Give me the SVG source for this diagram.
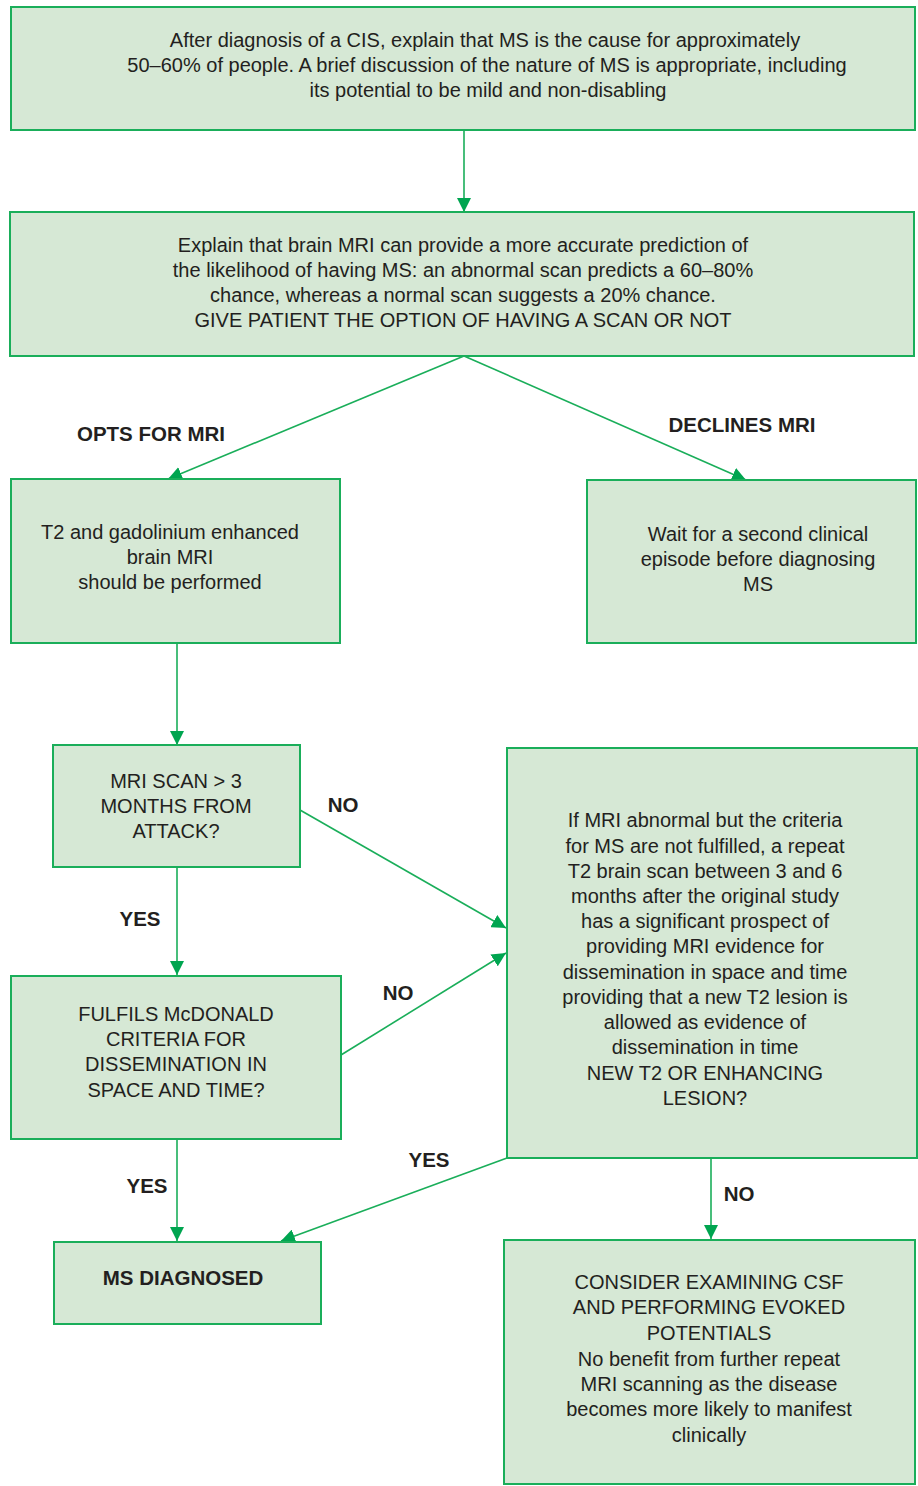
<svg xmlns="http://www.w3.org/2000/svg" width="918" height="1486" viewBox="0 0 918 1486">
<style>
.box{fill:#d6e8d5;stroke:#1aae5a;stroke-width:2}
.t{font-family:"Liberation Sans",Arial,sans-serif;font-size:20px;fill:#231f20;text-anchor:middle}
.b{font-family:"Liberation Sans",Arial,sans-serif;font-size:20.5px;font-weight:bold;fill:#231f20;text-anchor:middle}
.c{stroke:#1aae5a;stroke-width:1.6;fill:none;marker-end:url(#ah)}
</style>
<defs>
<marker id="ah" markerUnits="userSpaceOnUse" markerWidth="16" markerHeight="14" refX="14" refY="7" orient="auto">
<path d="M0,0 L14,7 L0,14 z" fill="#00a550"/>
</marker>
</defs>
<rect width="918" height="1486" fill="#fff"/>
<g id="connectors">
<line class="c" x1="464" y1="130" x2="464" y2="212"/>
<line class="c" x1="464" y1="356" x2="168" y2="479"/>
<line class="c" x1="464" y1="356" x2="746" y2="480"/>
<line class="c" x1="177" y1="643" x2="177" y2="745"/>
<line class="c" x1="300" y1="810" x2="506" y2="928"/>
<line class="c" x1="177" y1="867" x2="177" y2="975"/>
<line class="c" x1="341" y1="1055" x2="506" y2="953"/>
<line class="c" x1="177" y1="1139" x2="177" y2="1241"/>
<line class="c" x1="507" y1="1158" x2="281" y2="1241"/>
<line class="c" x1="711" y1="1158" x2="711" y2="1239"/>
<text class="b" x="151" y="441">OPTS FOR MRI</text>
<text class="b" x="742" y="432">DECLINES MRI</text>
<text class="b" x="343" y="812">NO</text>
<text class="b" x="140" y="926">YES</text>
<text class="b" x="398" y="1000">NO</text>
<text class="b" x="147" y="1193">YES</text>
<text class="b" x="429" y="1167">YES</text>
<text class="b" x="739" y="1201">NO</text>
</g>
<g id="n1">
<rect class="box" x="11" y="7" width="904" height="123"/>
<text class="t" x="485" y="47">After diagnosis of a CIS, explain that MS is the cause for approximately</text>
<text class="t" x="487" y="72">50–60% of people. A brief discussion of the nature of MS is appropriate, including</text>
<text class="t" x="488" y="97">its potential to be mild and non-disabling</text>
</g>
<g id="n2">
<rect class="box" x="10" y="212" width="904" height="144"/>
<text class="t" x="463" y="252">Explain that brain MRI can provide a more accurate prediction of</text>
<text class="t" x="463" y="277">the likelihood of having MS: an abnormal scan predicts a 60–80%</text>
<text class="t" x="463" y="302">chance, whereas a normal scan suggests a 20% chance.</text>
<text class="t" x="463" y="327">GIVE PATIENT THE OPTION OF HAVING A SCAN OR NOT</text>
</g>
<g id="n3">
<rect class="box" x="11" y="479" width="329" height="164"/>
<text class="t" x="170" y="539">T2 and gadolinium enhanced</text>
<text class="t" x="170" y="564">brain MRI</text>
<text class="t" x="170" y="589">should be performed</text>
</g>
<g id="n4">
<rect class="box" x="587" y="480" width="329" height="163"/>
<text class="t" x="758" y="541">Wait for a second clinical</text>
<text class="t" x="758" y="566">episode before diagnosing</text>
<text class="t" x="758" y="591">MS</text>
</g>
<g id="n5">
<rect class="box" x="53" y="745" width="247" height="122"/>
<text class="t" x="176" y="788">MRI SCAN &gt; 3</text>
<text class="t" x="176" y="813">MONTHS FROM</text>
<text class="t" x="176" y="838">ATTACK?</text>
</g>
<g id="n6">
<rect class="box" x="507" y="748" width="410" height="410"/>
<text class="t" x="705" y="827">If MRI abnormal but the criteria</text>
<text class="t" x="705" y="853">for MS are not fulfilled, a repeat</text>
<text class="t" x="705" y="878">T2 brain scan between 3 and 6</text>
<text class="t" x="705" y="903">months after the original study</text>
<text class="t" x="705" y="928">has a significant prospect of</text>
<text class="t" x="705" y="953">providing MRI evidence for</text>
<text class="t" x="705" y="979">dissemination in space and time</text>
<text class="t" x="705" y="1004">providing that a new T2 lesion is</text>
<text class="t" x="705" y="1029">allowed as evidence of</text>
<text class="t" x="705" y="1054">dissemination in time</text>
<text class="t" x="705" y="1080">NEW T2 OR ENHANCING</text>
<text class="t" x="705" y="1105">LESION?</text>
</g>
<g id="n7">
<rect class="box" x="11" y="976" width="330" height="163"/>
<text class="t" x="176" y="1021">FULFILS McDONALD</text>
<text class="t" x="176" y="1046">CRITERIA FOR</text>
<text class="t" x="176" y="1071">DISSEMINATION IN</text>
<text class="t" x="176" y="1097">SPACE AND TIME?</text>
</g>
<g id="n8">
<rect class="box" x="54" y="1242" width="267" height="82"/>
<text class="b" x="183" y="1285">MS DIAGNOSED</text>
</g>
<g id="n9">
<rect class="box" x="504" y="1240" width="411" height="244"/>
<text class="t" x="709" y="1289">CONSIDER EXAMINING CSF</text>
<text class="t" x="709" y="1314">AND PERFORMING EVOKED</text>
<text class="t" x="709" y="1340">POTENTIALS</text>
<text class="t" x="709" y="1366">No benefit from further repeat</text>
<text class="t" x="709" y="1391">MRI scanning as the disease</text>
<text class="t" x="709" y="1416">becomes more likely to manifest</text>
<text class="t" x="709" y="1442">clinically</text>
</g>
</svg>
